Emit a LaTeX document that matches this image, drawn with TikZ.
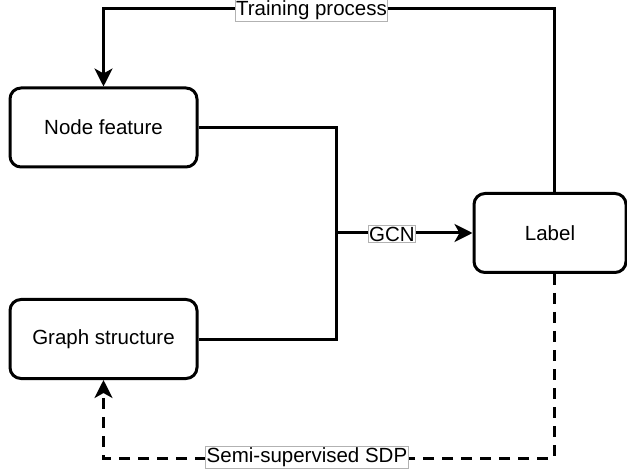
\documentclass[tikz,border=0pt]{standalone}
\usepackage{fontspec}
\setmainfont{Liberation Sans}
\usetikzlibrary{arrows.meta}
\begin{document}
\begin{tikzpicture}[x=1pt,y=-1pt,
  box/.style={draw=black, line width=3pt, rounded corners=11pt, fill=white,
    minimum width=#1, minimum height=79pt, inner sep=0pt,
    font=\fontsize{20.5}{24}\selectfont, text=black},
  box/.default=187pt,
  lbl/.style={draw=black!30, line width=0.8pt, fill=white, inner xsep=1pt, inner ysep=1.5pt,
    font=\fontsize{20.5}{24}\selectfont, text=black},
  conn/.style={line width=3pt, draw=black},
  tip/.style={-{Stealth[length=18pt,width=18pt,inset=5pt]}},
  dashline/.style={dash pattern=on 11pt off 8pt}
]
\useasboundingbox (0,0) rectangle (627,473);
\node[box] (nf) at (103.5,127.5) {Node feature};
\node[box] (gs) at (103.5,339) {Graph structure};
\node[box=152pt] (lab) at (550,233) {Label};
\coordinate (j) at (336,233);
\coordinate (tr) at (554,9);
\coordinate (tl) at (103.5,9);
\coordinate (br) at (554,458);
\coordinate (bl) at (103.5,458);
% GCN merge
\draw[conn] (nf.east) -| (j);
\draw[conn] (gs.east) -| (j);
\draw[conn,tip] (j) -- (lab.west);
% training loop
\draw[conn,tip] ([xshift=4pt]lab.north) -- (tr) -- (tl) -- (nf.north);
% semi-supervised loop
\draw[conn,dashline,tip] ([xshift=4pt]lab.south) -- (br) -- (bl) -- (gs.south);
% labels
\node[lbl] (gcn) at (392,234) {GCN};
\node[lbl] (tp) at (311.5,10) {Training process};
\node[lbl] (sdp) at (307,457) {Semi-supervised SDP};
\end{tikzpicture}
\end{document}
